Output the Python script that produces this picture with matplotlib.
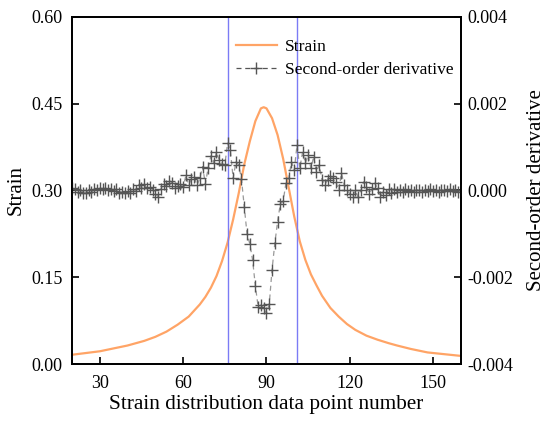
import numpy as np
import matplotlib
matplotlib.use("Agg")
import matplotlib.pyplot as plt
from matplotlib.lines import Line2D

plt.rcParams['font.family'] = ['Liberation Serif', 'DejaVu Serif']

# strain curve
strain_x = [20, 30, 40, 46, 50, 54, 58, 62, 66, 68, 70, 72, 74, 76, 78, 80,
            82, 84, 86, 88, 89, 90, 92, 94, 96, 98, 100, 102, 104, 106, 108,
            110, 113, 116, 119, 122, 126, 130, 134, 137, 142, 148, 154, 160]
strain_y = [0.016, 0.022, 0.032, 0.040, 0.047, 0.056, 0.068, 0.082, 0.103,
            0.116, 0.132, 0.152, 0.178, 0.210, 0.250, 0.295, 0.345, 0.385,
            0.420, 0.442, 0.444, 0.442, 0.425, 0.396, 0.355, 0.305, 0.255,
            0.212, 0.180, 0.155, 0.136, 0.118, 0.097, 0.082, 0.069, 0.059,
            0.049, 0.042, 0.036, 0.032, 0.026, 0.020, 0.017, 0.014]

# second-order derivative, one value per data point 20..160, in units of 1e-4
deriv_x = list(range(20, 161))
deriv_e4 = [0.5, 0.3, -0.3, 0.2, -0.5, -0.6, 0.2, -0.4, 0.4, 0.1,
            0.5, 0.3, 0.6, 0.2, 0.4, -0.2, 0.3, -0.5, -0.3, -0.6,
            -0.2, -0.5, 0.3, -0.2, 1.2, 0.6, 1.4, 0.5, 0.8, 0.2,
            -0.8, -1.4, 0.4, 1.5, 1.0, 2.3, 1.8, 0.5, 1.0, 1.5,
            0.8, 3.5, 1.3, 2.6, 3.0, 1.2, 2.8, 5.5, 1.5, 5.2,
            8.0, 6.3, 8.9, 7.0, 6.2, 5.9, 10.9, 9.3, 2.8, 6.6,
            5.9, 2.6, -3.7, -10.0, -12.3, -16.0, -22.0, -26.8, -26.4, -27.2,
            -28.3, -26.2, -18.3, -12.2, -7.2, -3.0, -2.5, 1.7, 2.8, 6.6,
            4.7, 10.5, 5.1, 8.9, 6.3, 8.2, 5.1, 7.8, 4.3, 5.9,
            2.4, 1.3, 2.4, 3.3, 2.8, 2.0, 0.1, 4.0, 1.3, 0.0,
            -0.7, -1.4, 0.0, -1.4, 0.0, 2.0, 0.9, -0.7, 0.3, 1.7,
            0.5, -1.4, -0.3, -1.0, 0.3, -0.5, 0.4, -0.3, 0.2, -0.4,
            0.3, -0.2, 0.1, -0.3, 0.2, 0.0, -0.3, 0.2, -0.1, 0.3,
            -0.2, 0.1, -0.3, 0.2, 0.0, -0.2, 0.3, -0.1, 0.2, -0.3,
            0.1]
deriv = np.array(deriv_e4) * 1e-4

boundaries = [76, 101]

fig = plt.figure(figsize=(5.5, 4.29), dpi=100)
ax = fig.add_axes([0.131, 0.1515, 0.707, 0.8089])
ax2 = ax.twinx()

ax.plot(strain_x, strain_y, color='#FFA466', linewidth=1.6)
for b in boundaries:
    ax.axvline(b, color='#7B7BF5', linewidth=1.0)

ax2.plot(deriv_x, deriv, color='#999999', linestyle=(0, (4, 3)), linewidth=0.9)
ax2.plot(deriv_x, deriv, linestyle='none', marker='+', markersize=8,
         markeredgewidth=1.0, color='#555555')

ax.set_xlim(20, 160)
ax.set_ylim(0, 0.6)
ax2.set_ylim(-0.004, 0.004)
ax.set_xticks([30, 60, 90, 120, 150])
ax.set_yticks([0, 0.15, 0.30, 0.45, 0.60])
ax.set_yticklabels(['0.00', '0.15', '0.30', '0.45', '0.60'])
ax2.set_yticks([-0.004, -0.002, 0, 0.002, 0.004])
ax2.set_yticklabels(['-0.004', '-0.002', '0.000', '0.002', '0.004'])

for a in (ax, ax2):
    a.tick_params(direction='in', length=5, width=1.2, labelsize=13)
    for s in a.spines.values():
        s.set_linewidth(1.3)
ax.tick_params(axis='x', pad=8)
ax.tick_params(axis='y', pad=7)
ax2.tick_params(axis='y', pad=5)

ax.set_xlabel('Strain distribution data point number', fontsize=15.3, labelpad=2)
ax.set_ylabel('Strain', fontsize=15, labelpad=4)
ax2.set_ylabel('Second-order derivative', fontsize=15, labelpad=9.5)

handles = [Line2D([], [], color='#FFA466', linewidth=1.6),
           Line2D([], [], color='#555555', linestyle=(0, (4, 3)), linewidth=0.9,
                  marker='+', markersize=8, markeredgewidth=1.0)]
ax2.legend(handles, ['Strain', 'Second-order derivative'], loc='upper right',
           bbox_to_anchor=(1.0, 0.957), frameon=False, fontsize=12.6,
           handlelength=2.3, handletextpad=0.5, labelspacing=0.38,
           borderaxespad=0.0)

fig.savefig('out.png', dpi=100)
